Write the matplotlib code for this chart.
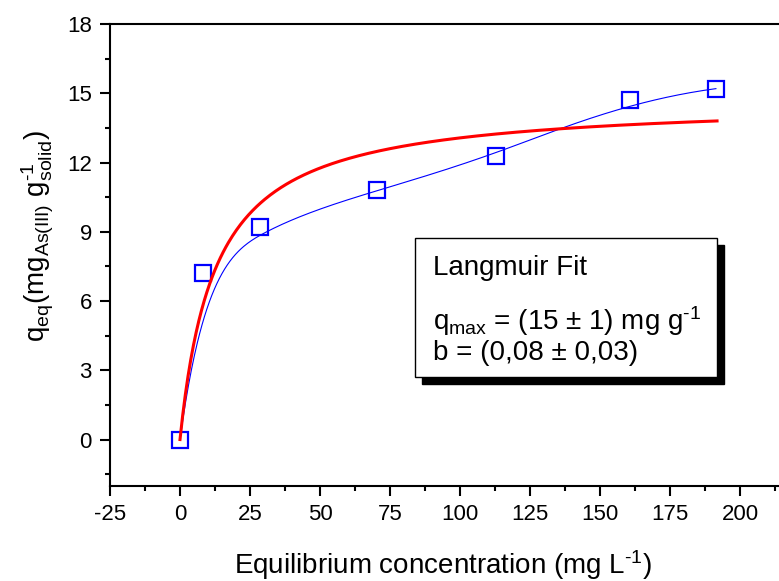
import matplotlib
matplotlib.use("Agg")
import matplotlib.pyplot as plt
from matplotlib.patches import Rectangle
from matplotlib.ticker import MultipleLocator
import numpy as np

plt.rcParams["font.family"] = "Liberation Sans"
plt.rcParams["mathtext.fontset"] = "custom"
plt.rcParams["mathtext.rm"] = "Liberation Sans"
plt.rcParams["mathtext.it"] = "Liberation Sans:italic"
plt.rcParams["mathtext.default"] = "regular"
plt.rcParams["axes.unicode_minus"] = False

# equilibrium concentration (mg/L) and As(III) uptake (mg/g)
c_eq = np.array([0, 8.1, 28.6, 70.4, 112.9, 160.7, 191.4])
q_eq = np.array([0, 7.2, 9.2, 10.8, 12.3, 14.7, 15.2])

# Langmuir fit
q_max = 14.7
b_fit = 0.08
c_fit_end = 191.8

x_ticks = [-25, 0, 25, 50, 75, 100, 125, 150, 175, 200]
y_ticks = [0, 3, 6, 9, 12, 15, 18]

HY = "\u2010"  # short hyphen for the "-1" exponents


def bspline(px, py, npts=400):
    # clamped cubic b-spline using the data as control points (like Origin's B-Spline line)
    k = 3
    m = len(px)
    knots = np.r_[np.zeros(k), np.arange(m - k + 1), np.full(k, m - k)].astype(float)
    t = np.linspace(0, m - k, npts)
    t[-1] -= 1e-9
    N = np.array([(knots[i] <= t) & (t < knots[i + 1]) for i in range(len(knots) - 1)], dtype=float)
    for d in range(1, k + 1):
        new = np.zeros((len(knots) - 1 - d, npts))
        for i in range(len(knots) - 1 - d):
            a = knots[i + d] - knots[i]
            b = knots[i + d + 1] - knots[i + 1]
            left = (t - knots[i]) / a * N[i] if a > 0 else 0
            right = (knots[i + d + 1] - t) / b * N[i + 1] if b > 0 else 0
            new[i] = left + right
        N = new
    return N.T @ px, N.T @ py


fig = plt.figure(figsize=(7.79, 5.81), dpi=100)
ax = fig.add_axes([110 / 779, 95.3 / 581, 700 / 779, 461.7 / 581])

sx, sy = bspline(c_eq, q_eq)
ax.plot(sx, sy, color="#0000FF", linewidth=0.8, zorder=2)
ax.plot(c_eq, q_eq, linestyle="none", marker="s", markersize=11.5,
        markerfacecolor="none", markeredgecolor="#0000FF", markeredgewidth=1.6, zorder=3)

c = np.linspace(0, c_fit_end, 400)
ax.plot(c, q_max * b_fit * c / (1 + b_fit * c), color="#FF0000", linewidth=2.2, zorder=4)

ax.set_xlim(-25, 225)
ax.set_ylim(-2, 18)
ax.set_xticks(x_ticks)
ax.set_yticks(y_ticks)
ax.xaxis.set_minor_locator(MultipleLocator(12.5))
ax.yaxis.set_minor_locator(MultipleLocator(1.5))
ax.tick_params(which="both", direction="out", top=False, right=False, width=1.5, labelsize=16)
ax.tick_params(which="major", length=7, pad=6)
ax.tick_params(which="minor", length=3.5)
for s in ["left", "bottom", "top"]:
    ax.spines[s].set_linewidth(1.5)
ax.spines["right"].set_visible(False)

ax.set_xlabel("Equilibrium concentration (mg L$^{" + HY + "1}$)", fontsize=20)
ax.set_ylabel(r"$q_{eq}(mg_{As(III)}\ g_{solid}^{" + HY + "1})$", fontsize=20)
ax.xaxis.set_label_coords(0.476, -0.136)
ax.yaxis.set_label_coords(-0.077, 0.54)

# text box with drop shadow
ax.add_patch(Rectangle((0.446, 0.2202), 0.431, 0.301, transform=ax.transAxes,
                       facecolor="black", edgecolor="black", zorder=5, clip_on=False))
ax.add_patch(Rectangle((0.436, 0.2354), 0.431, 0.301, transform=ax.transAxes,
                       facecolor="white", edgecolor="black", linewidth=1, zorder=6, clip_on=False))
ax.text(0.4614, 0.456, "Langmuir Fit", transform=ax.transAxes, fontsize=20, va="baseline", zorder=7)
ax.text(0.4614, 0.337, "$q_{max}$ = (15 ± 1) mg g$^{" + HY + "1}$", transform=ax.transAxes,
        fontsize=20, va="baseline", zorder=7)
ax.text(0.4614, 0.272, "b = (0,08 ± 0,03)", transform=ax.transAxes, fontsize=20, va="baseline", zorder=7)

fig.savefig("out.png", dpi=100)
